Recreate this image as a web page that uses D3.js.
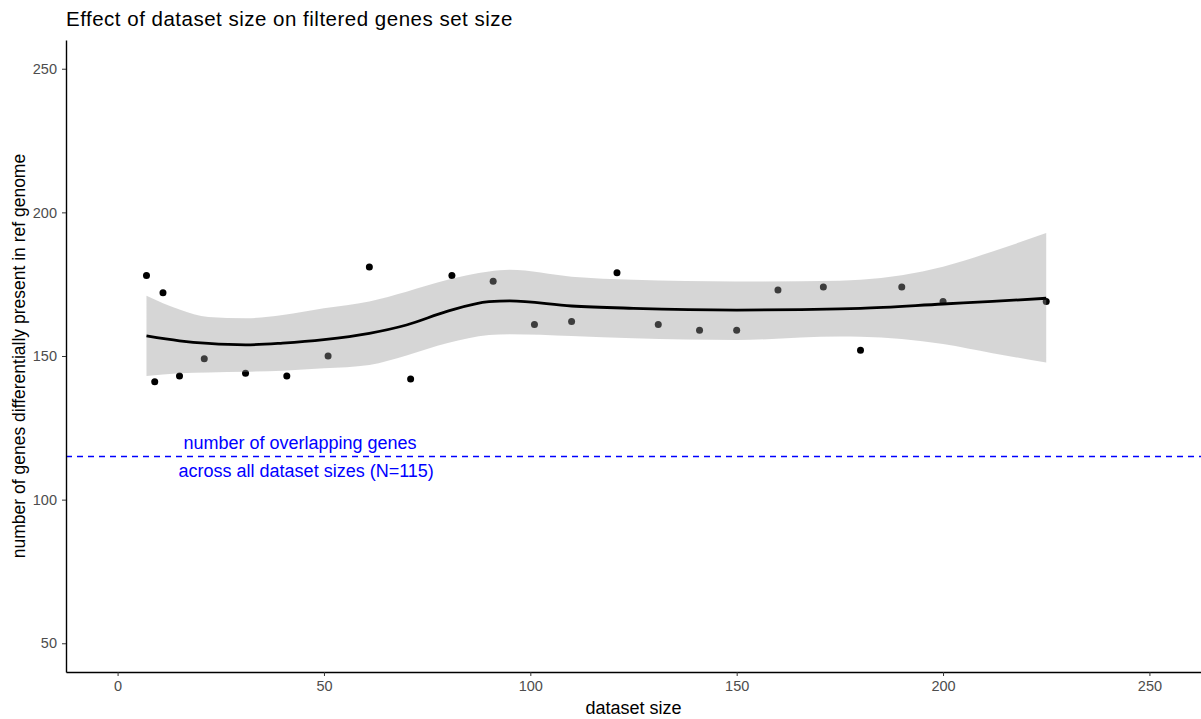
<!DOCTYPE html>
<meta charset="utf-8">
<style>
  body { margin: 0; background: #fff; }
  text { font-family: 'Liberation Sans', Arial, sans-serif; }
  .tick text { fill: #4d4d4d; font-size: 14.5px; }
  .tick line { stroke: #333; }
  .domain { stroke: #000; stroke-width: 1.4px; }
</style>
<body>
<script src="https://cdn.jsdelivr.net/npm/d3@7"></script>
<script>

// observed points: dataset size vs number of genes
var datasetSize = [7, 9, 11, 15, 21, 31, 41, 51, 61, 71, 81, 91, 101, 110, 121, 131, 141, 150, 160, 171, 180, 190, 200, 225];
var geneCount   = [178, 141, 172, 143, 149, 144, 143, 150, 181, 142, 178, 176, 161, 162, 179, 161, 159, 159, 173, 174, 152, 174, 169, 169];

// loess fit, with its confidence band
var smoothX     = [7, 15, 22, 31, 40, 50, 61, 70, 80, 90, 95, 110, 125, 150, 175, 180, 200, 212, 225];
var smoothFit   = [157, 155.3, 154.4, 153.9, 154.5, 155.7, 157.9, 160.8, 165.6, 168.9, 169.2, 167.4, 166.6, 166.0, 166.4, 166.6, 168.1, 169.0, 170.1];
var smoothLower = [143, 144.0, 144.3, 144.5, 144.9, 145.7, 146.9, 150.2, 154.5, 157.3, 157.6, 157.0, 156.2, 155.6, 156.8, 156.7, 154.2, 151.0, 147.7];
var smoothUpper = [171, 166.2, 163.6, 163.1, 164.3, 166.6, 169.0, 172.4, 176.5, 179.4, 180.0, 177.6, 176.5, 175.9, 176.2, 176.5, 181.1, 186.4, 192.8];

var xTicks = [0, 50, 100, 150, 200, 250];
var yTicks = [50, 100, 150, 200, 250];
var overlapN = 115;
var noteLines = ["number of overlapping genes", "across all dataset sizes (N=115)"];

var W = 1201, H = 719;
var margin = {top: 40, right: 0, bottom: 47, left: 66},
    width = W - margin.left - margin.right,
    height = H - margin.top - margin.bottom;

var x = d3.scaleLinear().domain([-12.5, 262.5]).range([0, width]);
var y = d3.scaleLinear().domain([40, 260]).range([height, 0]);

var svg = d3.select("body").append("svg")
    .attr("width", W)
    .attr("height", H);

var g = svg.append("g")
    .attr("transform", "translate(" + margin.left + "," + margin.top + ")");

var band = smoothX.map(function(d, i) {
  return {x: d, fit: smoothFit[i], lo: smoothLower[i], hi: smoothUpper[i]};
});
var pts = datasetSize.map(function(d, i) { return {x: d, y: geneCount[i]}; });

// points first, the ribbon is drawn over them (like ggplot)
g.selectAll(".pt")
    .data(pts)
  .enter().append("circle")
    .attr("class", "pt")
    .attr("cx", function(d) { return x(d.x); })
    .attr("cy", function(d) { return y(d.y); })
    .attr("r", 3.5)
    .attr("fill", "#000");

g.append("path")
    .datum(band)
    .attr("fill", "#999999")
    .attr("fill-opacity", 0.4)
    .attr("d", d3.area()
      .curve(d3.curveMonotoneX)
      .x(function(d) { return x(d.x); })
      .y0(function(d) { return y(d.lo); })
      .y1(function(d) { return y(d.hi); }));

g.append("path")
    .datum(band)
    .attr("fill", "none")
    .attr("stroke", "#000")
    .attr("stroke-width", 2.8)
    .attr("d", d3.line()
      .curve(d3.curveMonotoneX)
      .x(function(d) { return x(d.x); })
      .y(function(d) { return y(d.fit); }));

// reference line
g.append("line")
    .attr("x1", 0).attr("x2", width)
    .attr("y1", y(overlapN)).attr("y2", y(overlapN))
    .attr("stroke", "#0000ff")
    .attr("stroke-width", 1.4)
    .attr("stroke-dasharray", "6,5");

g.append("text")
    .attr("x", x(44.2))
    .attr("y", y(overlapN) - 8)
    .attr("text-anchor", "middle")
    .attr("fill", "#0000ff")
    .style("font-size", "18px")
    .text(noteLines[0]);

g.append("text")
    .attr("x", x(45.7))
    .attr("y", y(overlapN) + 20)
    .attr("text-anchor", "middle")
    .attr("fill", "#0000ff")
    .style("font-size", "18px")
    .text(noteLines[1]);

// axes
g.append("g")
    .attr("transform", "translate(0," + height + ")")
    .call(d3.axisBottom(x).tickValues(xTicks).tickSize(4).tickPadding(5).tickSizeOuter(0));

g.append("g")
    .call(d3.axisLeft(y).tickValues(yTicks).tickSize(4).tickPadding(5).tickSizeOuter(0));

// titles
svg.append("text")
    .attr("x", margin.left)
    .attr("y", 26)
    .style("font-size", "20.5px")
    .style("letter-spacing", "0.5px")
    .attr("fill", "#000")
    .text("Effect of dataset size on filtered genes set size");

svg.append("text")
    .attr("x", margin.left + width / 2)
    .attr("y", 714)
    .attr("text-anchor", "middle")
    .style("font-size", "18px")
    .text("dataset size");

svg.append("text")
    .attr("transform", "translate(25," + (margin.top + height / 2) + ") rotate(-90)")
    .attr("text-anchor", "middle")
    .style("font-size", "17.5px")
    .text("number of genes differentially present in ref genome");

</script>
</body>
